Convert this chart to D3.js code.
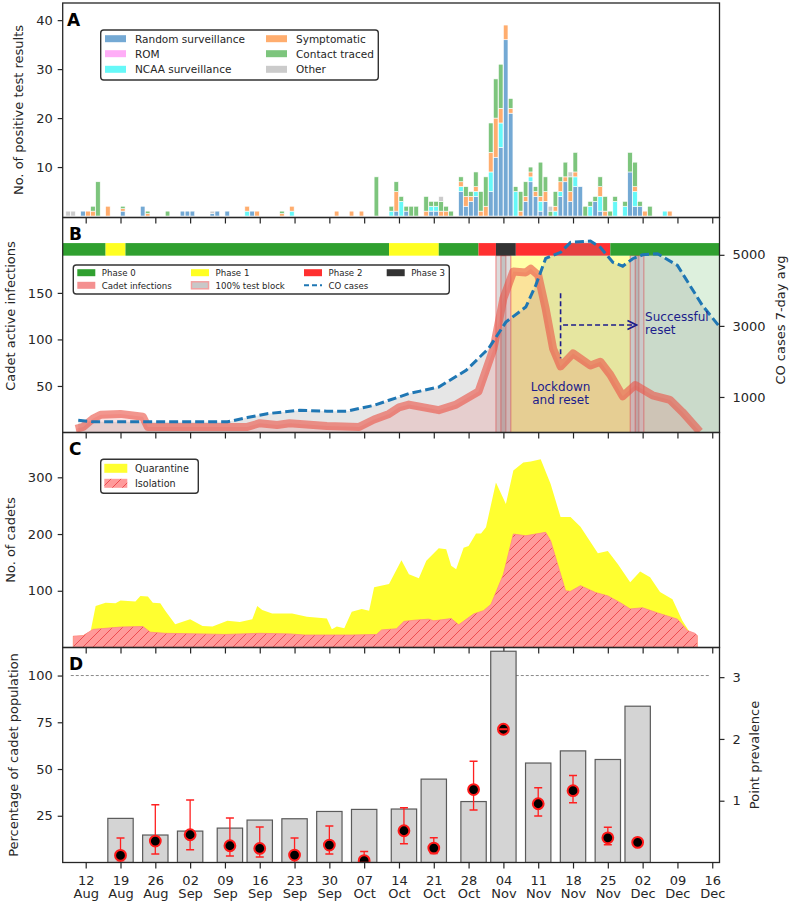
<!DOCTYPE html>
<html><head><meta charset="utf-8">
<script src="https://cdn.jsdelivr.net/npm/d3@7"></script>
<style>body{margin:0;background:#fff} svg text{font-family:"DejaVu Sans",sans-serif;fill:#262626}</style>
</head><body><svg id="c" width="791" height="903"></svg>
<script>
// ---------- DATA ----------
const tickDates = ["08-12","08-19","08-26","09-02","09-09","09-16","09-23","09-30","10-07","10-14","10-21","10-28","11-04","11-11","11-18","11-25","12-02","12-09","12-16"];

// Panel A: daily positive tests by category
const aDates = ["08-08","08-09","08-11","08-12","08-13","08-14","08-16","08-19","08-23","08-24","08-28","08-31","09-01","09-02","09-06","09-07","09-09","09-13","09-14","09-15","09-20","09-22","10-01","10-04","10-06","10-09","10-12","10-13","10-14","10-15","10-16","10-17","10-19","10-20","10-21","10-22","10-23","10-24","10-26","10-27","10-28","10-29","10-30","10-31","11-01","11-02","11-03","11-04","11-05","11-06","11-07","11-08","11-09","11-10","11-11","11-12","11-13","11-14","11-15","11-16","11-17","11-18","11-19","11-20","11-21","11-22","11-23","11-24","11-25","11-26","11-28","11-29","11-30","12-01","12-02","12-03","12-06","12-07"];
const aRandom = [0,0,1,0,0,0,0,1,2,0, 0,1,1,1,.5,1,1,0,1,0, 0,0,0,0,0,0,0,1,0,1, 0,0,0,1,1,0,0,0,5,2, 3,4,0,0,5,12,14,36,21,0, 0,3,7,4,1,3,0,0,4,7, 3,6,6,0,0,3,1,0,0,0, 0,9,2,2,0,0,0,0];
const aROM = [0,0,0,0,0,0,0,0,0,0, 0,0,0,0,0,0,0,0,0,0, 0,0,0,0,0,0,0,0,0,0, 0,0,0,0,0,0,0,0,0,0, 0,0,0,0,0,0,0,0,0,0, 0,0,0,0,0,0,0,0,0,0, 0,0,0,0,0,0,0,0,0,0, 0,0,0,0,0,0,0,0];
const aNCAA = [0,0,0,0,0,0,0,0,0,0, 0,0,0,0,0,0,0,1,0,0, 0,1,0,0,0,0,1,0,3,0, 0,0,0,1,1,0,0,0,1,0, 0,1,0,0,4,0,5,0,0,5, 0,0,1,0,2,0,0,1,1,0, 0,2,0,0,2,0,3,0,0,3, 2,0,3,0,0,0,1,0];
const aSymptomatic = [0,0,0,1,1,0,2,.5,0,.5, 0,0,0,0,0,0,0,1,0,1, .5,1,1,1,1,0,0,4,0,0, 0,0,1,0,0,1,1,0,1,2, 1,1,1,2,4,8,3,3,1,0, 1,1,1,1,1,2,0,1,2,1, 2,1,0,0,0,0,2,1,0,0, 0,0,1,0,1,0,0,1];
const aContact = [0,0,0,0,1,7,0,.5,0,.5, 1,0,0,0,0,0,0,0,0,0, .5,0,0,0,0,8,1,2,1,1, 2,2,3,1,1,2,1,1,1,2, 1,3,4,6,6,8,9,0,2,1, 4,3,1,1,7,3,1,3,1,3, 3,4,0,2,1,1,2,3,1,1, 1,4,5,1,0,2,0,0];
const aOther = [1,1,0,0,0,0,0,0,0,0, 0,0,0,0,.5,0,0,0,0,0, 0,0,0,0,0,0,0,0,0,0, 0,0,0,0,0,1,0,0,0,0, 0,0,0,0,0,0,0,0,0,0, 0,0,0,0,0,0,1,0,0,0, 1,0,0,0,0,0,0,0,0,0, 0,0,0,0,0,0,0,0];
const aCategories = ["Random surveillance","ROM","NCAA surveillance","Symptomatic","Contact traced","Other"];
const aColors = ["#74a9d4","#ffadf7","#66f8f8","#ffad6e","#7dc57d","#cbcbcb"];

// Panel B
const phaseStarts = ["08-07","08-16","08-20","10-12","10-22","10-30","11-02T12","11-06T12","11-25T12"];
const phaseEnd = "12-18";
const phaseOf = [0,1,0,1,0,2,3,2,0];
const phaseColors = ["#30a030","#ffff22","#ff3030","#333333"];
const cadetDates = ["08-10","08-11T12","08-13T12","08-15","08-19","08-23T12","08-24T12","09-13T12","09-16","09-19T12","09-22","09-29T12","10-06","10-09","10-12","10-14","10-16","10-19","10-22","10-25T12","10-30","11-02","11-04","11-06","11-08T12","11-09T12","11-11","11-12T12","11-14","11-15T12","11-18","11-21T12","11-23T12","11-25T12","11-28","11-30T12","12-04","12-07T12","12-10","12-13T12"];
const cadetInfections = [4,6,15,19,20,17,6,6,10,8,10,7,6,14,20,27,30,27,24,30,44,90,144,173,172,176,169,133,90,71,85,72,76,62,39,51,40,35,22,1];
const coDates = ["08-10T12","08-13T12","09-09T12","09-13T12","09-17T12","09-24","09-29T12","10-03T12","10-09","10-12","10-16","10-22","10-27T12","11-01","11-04T12","11-08T12","11-10T12","11-12T12","11-15T12","11-17T12","11-21T12","11-23T12","11-26","11-28","11-30","12-02","12-05","12-09","12-11T12","12-14","12-17T12"];
const coCases = [345,300,300,420,530,625,600,600,765,907,1095,1280,1750,2360,3107,3530,4140,4900,5070,5350,5390,5210,4790,4680,4890,5000,5030,4700,4140,3580,2970];
const testBlocks = [["11-02T12","11-04T12"],["11-03T12","11-05T12"],["11-29T12","12-01T06"],["11-30T12","12-02T06"]];
const lockdown = ["11-05T12","11-29T12"];
const resetStart = "12-02T06";

// Panel C
const quarDates = ["08-09T12","08-11T12","08-13","08-14","08-16","08-18","08-19","08-22","08-23","08-24T12","08-25T12","08-27","08-28","08-30","09-02","09-04T12","09-06T12","09-09T12","09-12","09-14T12","09-15T12","09-16T12","09-18T12","09-22T12","09-25T12","09-29T12","09-30T12","10-01T12","10-03","10-04T12","10-06T12","10-08","10-09","10-12","10-14T12","10-16","10-18","10-19T12","10-22","10-23T12","10-24T12","10-25T12","10-27","10-28","10-29T12","10-30T12","10-31T12","11-02T12","11-04T12","11-06","11-08","11-09T12","11-11T12","11-13T12","11-15T12","11-17T12","11-19T12","11-23","11-25","11-27","11-29T12","12-01T12","12-03T12","12-05T12","12-08","12-10","12-11T12","12-13"];
const quarantine = [20,21,29,73,79,78,83,81,91,90,79,78,65,41,50,38,37,47,45,50,73,66,60,60,54,51,32,37,34,63,68,65,106,112,154,129,122,153,175,173,144,138,176,179,201,201,212,291,253,312,326,328,332,288,230,230,213,166,170,147,115,134,124,98,85,47,27,21];
const isoDates = ["08-09T12","08-11T12","08-13T12","08-19","08-23T12","08-25","08-28","09-04","09-09","09-16","09-22","09-25","10-04T12","10-09T12","10-10T12","10-13T12","10-15","10-17","10-20","10-21","10-24T12","10-26","10-29","10-31","11-01T12","11-04","11-06","11-08T12","11-12T12","11-13T12","11-16T12","11-17T12","11-19T12","11-22T12","11-25","11-27T12","11-29T12","12-02","12-05","12-09","12-11","12-12T12","12-13"];
const isolation = [20,21,32,36,37,27,25,24,23,25,24,22,22,23,31,33,46,48,50,47,51,40,59,65,76,129,200,197,203,188,100,99,109,97,91,79,68,70,61,50,30,25,21];

// Panel D
const weekDates = ["08-19","08-26","09-02","09-10","09-16","09-23","09-30","10-07","10-15","10-21","10-29","11-04","11-11","11-18","11-25","12-01"];
const pctTested = [23.6,14.7,16.8,18.4,22.7,23.4,27.3,28.4,28.6,44.6,32.6,113,53.2,59.7,55.1,83.6];
const prevalence = [0.115,0.347,0.449,0.271,0.228,0.12,0.282,0.03,0.514,0.233,1.18,2.157,0.951,1.162,0.4,0.326];
const prevLow = [0,0.136,0.206,0.104,0.088,0,0.136,0,0.303,0.147,0.85,2.152,0.752,0.968,0.287,null];
const prevHigh = [0.395,0.935,1.01,0.72,0.574,0.395,0.59,0.18,0.887,0.4,1.64,2.162,1.21,1.41,0.569,null];

// ---------- SETUP ----------
const T = s => new Date("2020-" + (s.includes("T") ? s + ":00Z" : s + "T00:00Z"));
const L = 62.7, R = 719.5;
const P = {A:[3,217.5], B:[217.5,432.5], C:[432.5,647.5], D:[647.5,862.5]};
const x = d3.scaleUtc().domain([Date.UTC(2020,7,7,9), Date.UTC(2020,11,17,11)]).range([L,R]);
const dayPx = x(T("08-13")) - x(T("08-12"));
const svg = d3.select("#c");
const defs = svg.append("defs");
const ink = "#262626";

function clip(id, top, bottom){
  defs.append("clipPath").attr("id",id).append("rect").attr("x",L).attr("y",top).attr("width",R-L).attr("height",bottom-top);
}
clip("clipB", P.B[0], P.B[1]); clip("clipC", P.C[0], P.C[1]); clip("clipD", P.D[0], P.D[1]);

// hatch
const pat = defs.append("pattern").attr("id","hatch").attr("patternUnits","userSpaceOnUse")
  .attr("width",10).attr("height",10);
pat.append("rect").attr("width",10).attr("height",10).attr("fill","#ff9a9a");
pat.append("path").attr("d","M-2,12 L12,-2 M-7,7 L7,-7 M3,17 L17,3").attr("stroke","#ee4c50").attr("stroke-width",1);

function frame(p){
  svg.append("rect").attr("x",L).attr("y",p[0]).attr("width",R-L).attr("height",p[1]-p[0])
    .attr("fill","none").attr("stroke",ink).attr("stroke-width",1.3);
}
function xAxis(bottom, labels){
  const ax = d3.axisBottom(x).tickValues(tickDates.map(T)).tickSize(6).tickFormat(labels ? d3.utcFormat("%d|%b") : "");
  const g = svg.append("g").attr("transform",`translate(0,${bottom})`).call(ax);
  g.select(".domain").remove();
  g.selectAll(".tick line").attr("stroke",ink).attr("stroke-width",1.2);
  if(labels){
    g.selectAll(".tick text").each(function(){
      const t = d3.select(this); const [a,b] = t.text().split("|");
      t.text(null).attr("y",0).attr("dy",null).attr("font-size",13);
      t.append("tspan").attr("x",0).attr("y",22).text(a);
      t.append("tspan").attr("x",0).attr("y",35.5).text(b);
    });
  }
}
function yLeft(scale, ticks){
  const g = svg.append("g").attr("transform",`translate(${L},0)`)
    .call(d3.axisLeft(scale).tickValues(ticks).tickSize(5).tickPadding(5).tickFormat(d3.format("d")));
  g.select(".domain").remove();
  g.selectAll(".tick line").attr("stroke",ink).attr("stroke-width",1.2);
  g.selectAll(".tick text").attr("font-size",13);
}
function yRight(scale, ticks){
  const g = svg.append("g").attr("transform",`translate(${R},0)`)
    .call(d3.axisRight(scale).tickValues(ticks).tickSize(5).tickPadding(8).tickFormat(d3.format("d")));
  g.select(".domain").remove();
  g.selectAll(".tick line").attr("stroke",ink).attr("stroke-width",1.2);
  g.selectAll(".tick text").attr("font-size",13);
}
function vLabel(txt, xpos, ycen, rot){
  svg.append("text").attr("transform",`translate(${xpos},${ycen}) rotate(${rot})`)
    .attr("text-anchor","middle").attr("font-size",13).text(txt);
}
function letter(t, xx, yy){
  svg.append("text").attr("x",xx).attr("y",yy).attr("font-size",17).attr("font-weight","bold").style("fill","#000").text(t);
}
function legendBox(x0,y0,w,h){
  svg.append("rect").attr("x",x0).attr("y",y0).attr("width",w).attr("height",h).attr("rx",3)
    .attr("fill","#fff").attr("stroke","#333").attr("stroke-width",1.4);
}

// ---------- PANEL A ----------
const yA = d3.scaleLinear().domain([-0.3,43.5]).range([P.A[1],P.A[0]]);
const aSeries = [aRandom,aROM,aNCAA,aSymptomatic,aContact,aOther];
const rowsA = aDates.map((d,i)=>{ const o = {date:T(d)}; aCategories.forEach((k,j)=>o[k]=aSeries[j][i]); return o; });
const stackA = d3.stack().keys(aCategories)(rowsA);
stackA.forEach((layer,j)=>{
  svg.append("g").selectAll("rect").data(layer.filter(d=>d[1]-d[0]>0)).join("rect")
    .attr("x",d=>x(d.data.date)).attr("width",dayPx*0.92)
    .attr("y",d=>yA(d[1])).attr("height",d=>yA(d[0])-yA(d[1]))
    .attr("fill",aColors[j]).attr("stroke","#fff").attr("stroke-width",0.6);
});
frame(P.A); xAxis(P.A[1], false); yLeft(yA,[10,20,30,40]);
vLabel("No. of positive test results", 23, 110, -90);
letter("A", 67, 26);
legendBox(100.7,30,277.6,50);
const legA = [[0,38.7],[0,53.7],[0,69.3],[1,38.7],[1,53.7],[1,69.3]];
aCategories.forEach((k,i)=>{
  const [c,yy] = legA[i]; const px = c ? 266 : 105;
  svg.append("rect").attr("x",px).attr("y",yy-3.5).attr("width",21).attr("height",7).attr("fill",aColors[i]);
  svg.append("text").attr("x",px+30).attr("y",yy+4).attr("font-size",10.5).text(k);
});

// ---------- PANEL B ----------
const yB = d3.scaleLinear().domain([0,231]).range([P.B[1],P.B[0]]);
const yB2 = d3.scaleLinear().domain([0,6050]).range([P.B[1],P.B[0]]);
const gB = svg.append("g").attr("clip-path","url(#clipB)");
// regions
gB.append("rect").attr("x",x(T(lockdown[0]))).attr("width",x(T(lockdown[1]))-x(T(lockdown[0])))
  .attr("y",yB(190)).attr("height",yB(0)-yB(190)).attr("fill","#ffff00").attr("opacity",0.34);
gB.append("rect").attr("x",x(T(resetStart))).attr("width",R-x(T(resetStart)))
  .attr("y",yB(190)).attr("height",yB(0)-yB(190)).attr("fill","#1a9a1a").attr("opacity",0.15);
testBlocks.forEach(b=>{
  gB.append("rect").attr("x",x(T(b[0]))).attr("width",x(T(b[1]))-x(T(b[0])))
    .attr("y",yB(190)).attr("height",yB(0)-yB(190)).attr("fill","#8c8c8c").attr("fill-opacity",0.3)
    .attr("stroke","#ee3030").attr("stroke-opacity",0.55).attr("stroke-width",1);
});
// phase bar
phaseStarts.forEach((s,i)=>{
  const e = i<phaseStarts.length-1 ? phaseStarts[i+1] : phaseEnd;
  gB.append("rect").attr("x",x(T(s))).attr("width",x(T(e))-x(T(s)))
    .attr("y",yB(203.5)).attr("height",yB(190)-yB(203.5)).attr("fill",phaseColors[phaseOf[i]]);
});
const coData = coDates.map((d,i)=>({date:T(d),v:coCases[i]}));
const cadetData = cadetDates.map((d,i)=>({date:T(d),v:cadetInfections[i]}));
gB.append("path").datum(coData).attr("fill","#808080").attr("fill-opacity",0.2)
  .attr("d",d3.area().x(d=>x(d.date)).y0(yB2(0)).y1(d=>yB2(d.v)));
gB.append("path").datum(cadetData).attr("fill","#e85050").attr("fill-opacity",0.16)
  .attr("d",d3.area().x(d=>x(d.date)).y0(yB(0)).y1(d=>yB(d.v)));
gB.append("path").datum(cadetData).attr("fill","none").attr("stroke","#ea5548").attr("stroke-opacity",0.62)
  .attr("stroke-width",8).attr("stroke-linejoin","round")
  .attr("d",d3.line().x(d=>x(d.date)).y(d=>yB(d.v)));
gB.append("path").datum(coData).attr("fill","none").attr("stroke","#1f77b4")
  .attr("stroke-width",3).attr("stroke-dasharray","9,4")
  .attr("d",d3.line().x(d=>x(d.date)).y(d=>yB2(d.v)));
// annotations
const navy = "#1c1c8c";
defs.append("marker").attr("id","arr").attr("viewBox","0 0 10 10").attr("refX",9).attr("refY",5)
  .attr("markerWidth",7).attr("markerHeight",7).attr("orient","auto")
  .append("path").attr("d","M1,1 L9,5 L1,9").attr("fill","none").attr("stroke",navy).attr("stroke-width",1.5);
gB.append("line").attr("x1",x(T("11-15T12"))).attr("x2",x(T("11-15T12"))).attr("y1",yB(149.6)).attr("y2",yB(79.7))
  .attr("stroke",navy).attr("stroke-width",1.6).attr("stroke-dasharray","5,3");
gB.append("line").attr("x1",x(T("11-16"))).attr("x2",x(T("11-30T18"))).attr("y1",yB(115.5)).attr("y2",yB(115.5))
  .attr("stroke",navy).attr("stroke-width",1.6).attr("stroke-dasharray","5,3").attr("marker-end","url(#arr)");
const annFont = 12;
[["Lockdown",44.5],["and reset",30.5]].forEach(([t,v])=>{
  svg.append("text").attr("text-anchor","middle").attr("font-size",annFont).style("fill",navy)
    .attr("x",x(T("11-15T12"))).attr("y",yB(v)).text(t);
});
[["Successful",119.5],["reset",105.5]].forEach(([t,v])=>{
  svg.append("text").attr("text-anchor","start").attr("font-size",annFont).style("fill",navy)
    .attr("x",x(T("12-02T12"))).attr("y",yB(v)).text(t);
});
frame(P.B); xAxis(P.B[1], false); yLeft(yB,[50,100,150]); yRight(yB2,[1000,3000,5000]);
vLabel("Cadet active infections", 15, 316, -90);
vLabel("CO cases 7-day avg", 785, 320, -90);
letter("B", 69, 240);
// legend B
legendBox(73.3,265,376,29);
const legB = [
  {t:"Phase 0",c:0,r:0,k:"p",col:phaseColors[0]},{t:"Phase 1",c:1,r:0,k:"p",col:phaseColors[1]},
  {t:"Phase 2",c:2,r:0,k:"p",col:phaseColors[2]},{t:"Phase 3",c:3,r:0,k:"p",col:phaseColors[3]},
  {t:"Cadet infections",c:0,r:1,k:"l"},{t:"100% test block",c:1,r:1,k:"b"},{t:"CO cases",c:2,r:1,k:"d"}];
const colX = [77.3,191,304,386.7], rowY = [272.7,285.3];
legB.forEach(e=>{
  const px = colX[e.c], py = rowY[e.r];
  if(e.k==="p") svg.append("rect").attr("x",px).attr("y",py-3.5).attr("width",18).attr("height",7).attr("fill",e.col);
  if(e.k==="l") svg.append("rect").attr("x",px).attr("y",py-3.5).attr("width",18).attr("height",7).attr("fill","#f49090");
  if(e.k==="b") svg.append("rect").attr("x",px+0.5).attr("y",py-3.5).attr("width",17).attr("height",7).attr("fill","#c8c8c8").attr("stroke","#f2a0a0").attr("stroke-width",1.5);
  if(e.k==="d") svg.append("line").attr("x1",px).attr("x2",px+18).attr("y1",py).attr("y2",py).attr("stroke","#1f77b4").attr("stroke-width",2).attr("stroke-dasharray","5,3");
  svg.append("text").attr("x",px+24.5).attr("y",py+3.2).attr("font-size",8.6).text(e.t);
});

// ---------- PANEL C ----------
const yC = d3.scaleLinear().domain([0,379]).range([P.C[1],P.C[0]]);
const gC = svg.append("g").attr("clip-path","url(#clipC)");
const qData = quarDates.map((d,i)=>({date:T(d),v:quarantine[i]}));
const iData = isoDates.map((d,i)=>({date:T(d),v:isolation[i]}));
gC.append("path").datum(qData).attr("fill","#ffff30")
  .attr("d",d3.area().x(d=>x(d.date)).y0(yC(0)).y1(d=>yC(d.v)));
gC.append("path").datum(iData).attr("fill","url(#hatch)").attr("stroke","#ff8888").attr("stroke-width",0.8)
  .attr("d",d3.area().x(d=>x(d.date)).y0(yC(0)).y1(d=>yC(d.v)));
frame(P.C); xAxis(P.C[1], false); yLeft(yC,[100,200,300]);
vLabel("No. of cadets", 15, 540, -90);
letter("C", 69, 455);
legendBox(100.7,459.3,97.6,34);
svg.append("rect").attr("x",104.3).attr("y",463.8).attr("width",23).attr("height",9).attr("fill","#ffff30");
svg.append("rect").attr("x",104.3).attr("y",478.8).attr("width",23).attr("height",9).attr("fill","url(#hatch)");
svg.append("text").attr("x",135).attr("y",471.8).attr("font-size",9.6).text("Quarantine");
svg.append("text").attr("x",135).attr("y",486.8).attr("font-size",9.6).text("Isolation");

// ---------- PANEL D ----------
const yD = d3.scaleLinear().domain([0,115]).range([P.D[1],P.D[0]]);
const yD2 = d3.scaleLinear().domain([0,3.48]).range([P.D[1],P.D[0]]);
const gD = svg.append("g").attr("clip-path","url(#clipD)");
const bw = dayPx*5.1;
gD.append("line").attr("x1",x(T("08-09"))).attr("x2",x(T("12-15T12"))).attr("y1",yD(100)).attr("y2",yD(100))
  .attr("stroke","#8a8a8a").attr("stroke-width",1).attr("stroke-dasharray","3,2");
gD.selectAll("rect.bar").data(weekDates).join("rect").attr("class","bar")
  .attr("x",(d)=>x(T(d))-bw/2).attr("width",bw)
  .attr("y",(d,i)=>yD(pctTested[i])).attr("height",(d,i)=>yD(0)-yD(pctTested[i]))
  .attr("fill","#d4d4d4").attr("stroke","#5a5a5a").attr("stroke-width",1.2);
weekDates.forEach((d,i)=>{
  const cx = x(T(d));
  if(prevLow[i]!==null){
    gD.append("line").attr("x1",cx).attr("x2",cx).attr("y1",yD2(prevLow[i])).attr("y2",yD2(prevHigh[i]))
      .attr("stroke","#ff2020").attr("stroke-width",1.3);
  }
  gD.append("circle").attr("cx",cx).attr("cy",yD2(prevalence[i])).attr("r",5.4)
    .attr("fill","#000").attr("stroke","#ff1a1a").attr("stroke-width",2);
  if(prevLow[i]!==null){
    [prevLow[i],prevHigh[i]].forEach(v=>{
      gD.append("line").attr("x1",cx-4).attr("x2",cx+4).attr("y1",yD2(v)).attr("y2",yD2(v))
        .attr("stroke","#ff2020").attr("stroke-width",1.5);
    });
  }
});
frame(P.D); xAxis(P.D[1], true); yLeft(yD,[25,50,75,100]); yRight(yD2,[1,2,3]);
vLabel("Percentage of cadet population", 18, 755, -90);
vLabel("Point prevalence", 759, 755, -90);
letter("D", 69, 670);
</script></body></html>
